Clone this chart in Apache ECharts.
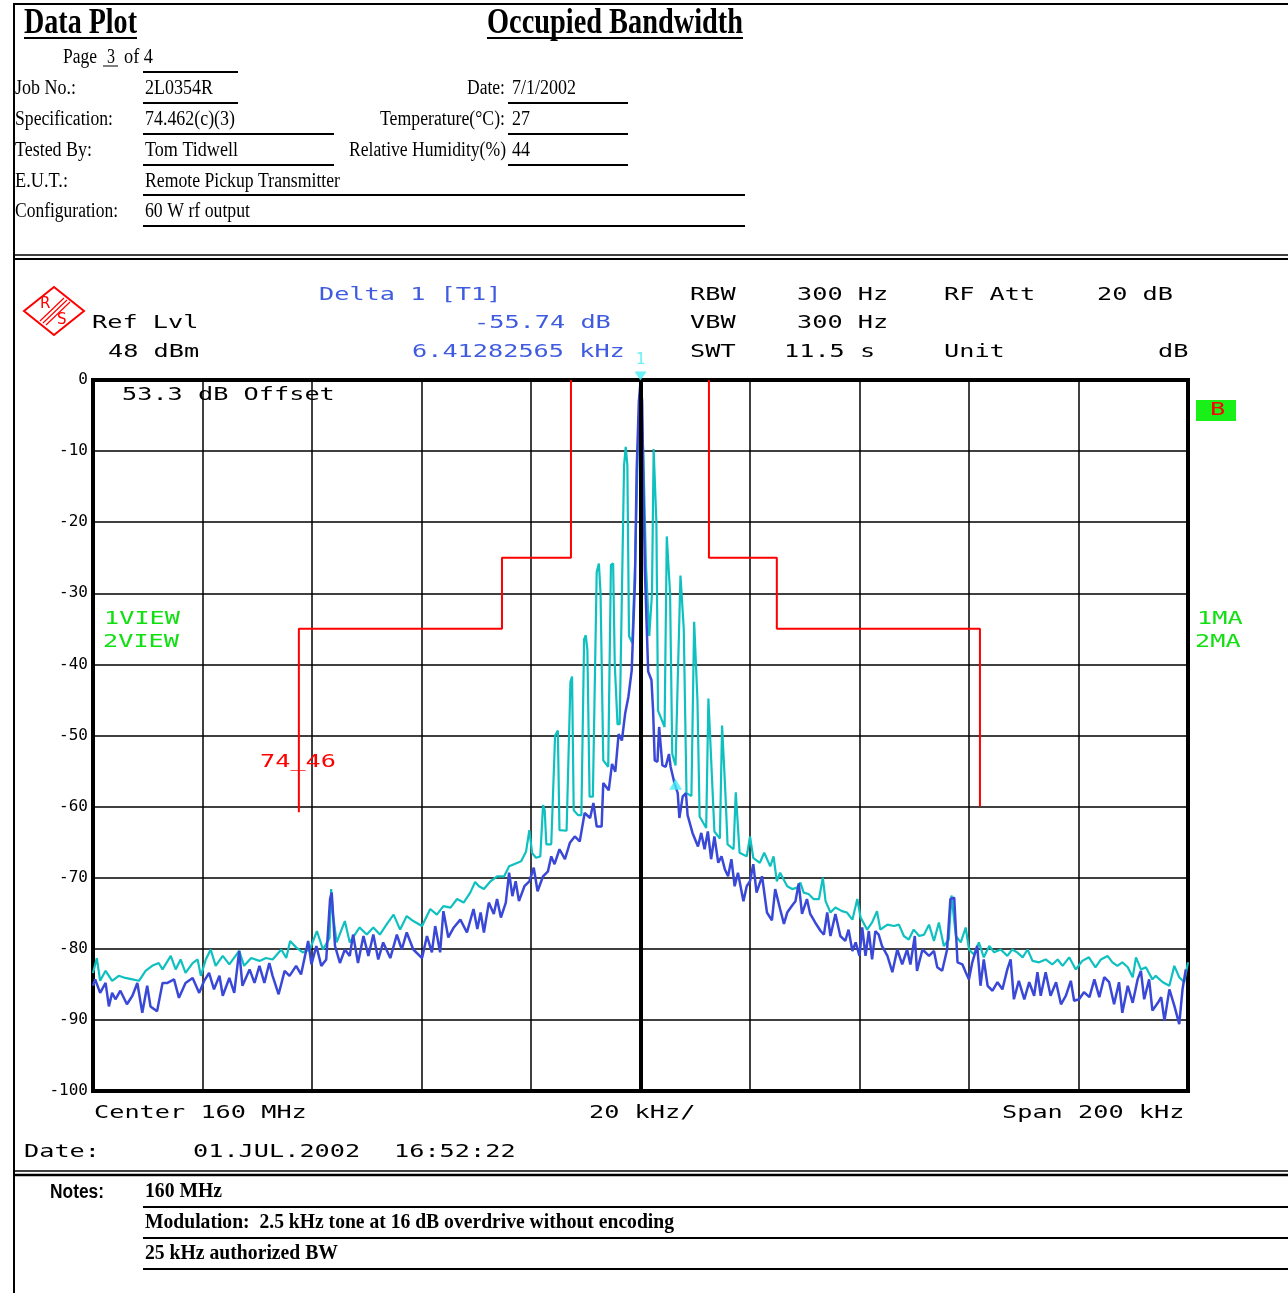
<!DOCTYPE html>
<html>
<head>
<meta charset="utf-8">
<title>Occupied Bandwidth</title>
<script src="https://cdn.jsdelivr.net/npm/echarts@6/dist/echarts.min.js"></script>
<style>
  html, body { margin: 0; padding: 0; background: #fff; }
  #chart { width: 1288px; height: 1293px; }
</style>
</head>
<body>
<div id="chart"></div>
<script>
// ---- Spectrum traces: [offset from center (kHz), level (dB)] ----
// Trace 1 (max hold), lower band edge, core, upper band edge
const trace1Low = [[-100,-83.4],[-99.3,-81.3],[-98.7,-84.5],[-97.7,-83.1],[-96.5,-84.5],[-95.3,-83.8],[-94.1,-84.1],[-92.8,-84.3],[-91.6,-84.5],[-90.4,-83.1],[-89.2,-82.4],[-88,-82],[-87.3,-82.9],[-85.8,-81],[-84.9,-82.9],[-84,-81.5],[-83.1,-83.4],[-81.8,-82],[-80.9,-81.5],[-80.3,-83.8],[-79.4,-81.5],[-78.5,-80.1],[-77.6,-82.4],[-76.3,-81],[-75.1,-82.2],[-73.3,-80.3],[-72.4,-82.4],[-71.1,-81.3],[-69.6,-81.7],[-68.4,-81.3],[-67.2,-81.5],[-65.6,-80.1],[-64.7,-81.3],[-64,-78.9],[-62.9,-79.8],[-61.7,-80.5],[-60.4,-80.1],[-59.1,-77.5],[-58,-80.1],[-56.8,-78.5],[-56.5,-71.6],[-56.2,-75],[-55.5,-79.1],[-54,-76.1],[-53.1,-79.1],[-51.3,-77],[-50,-78],[-48.8,-77],[-47.6,-78],[-46.4,-76.6],[-45.1,-75.2],[-43.9,-77.3],[-42.7,-75.4],[-41.5,-76.1],[-39.9,-76.8],[-38.4,-74.4],[-37.2,-75.2],[-36,-74],[-34.7,-74.2],[-33.5,-73],[-32.3,-73.5],[-31.1,-72.1],[-30.2,-70.6]];
const trace1Core = [[-29.5,-71.2],[-28.6,-71.6],[-27.4,-70.5],[-26.2,-69.8],[-24.9,-69.8],[-24,-68.4],[-23.1,-68.1],[-21.8,-67.7],[-20.9,-66.3],[-20.3,-63.3],[-19.8,-66.5],[-19.1,-67.2],[-18.3,-67],[-17.8,-59.8],[-17.5,-60.5],[-17.2,-65.3],[-16.3,-65.3],[-15.6,-50],[-15.1,-49.3],[-14.8,-63.3],[-13.5,-63.4],[-12.8,-42.5],[-12.5,-41.7],[-12.2,-60.5],[-11.4,-61.2],[-10.8,-61.2],[-10.3,-36.5],[-10,-35.9],[-9.7,-38],[-9.3,-58.6],[-8.7,-58.6],[-8,-27],[-7.6,-25.8],[-7.3,-30],[-6.8,-53.5],[-5.9,-54.4],[-5.4,-26],[-5,-25.8],[-4.7,-40],[-4.2,-48.4],[-3.8,-48.4],[-3,-12],[-2.7,-9.4],[-2.4,-12],[-2.1,-36],[-1.5,-37],[-1,-26],[-0.5,-10],[0,-0.5],[0.5,-10],[1,-26],[1.6,-36],[2.1,-30],[2.4,-9.7],[2.6,-9.5],[2.9,-20],[3.2,-46.5],[4.4,-48.8],[4.8,-22],[5.1,-21.8],[5.4,-30],[5.8,-52.6],[6.4,-54.2],[7.3,-27.5],[7.6,-27.3],[7.9,-35],[8.4,-58.1],[9.3,-58.5],[9.8,-34],[10.1,-33.8],[10.4,-45],[10.8,-61.4],[12,-63],[12.4,-44.8],[12.7,-44.6],[13,-55],[13.5,-63.5],[14.5,-64.5],[14.9,-48.6],[15.2,-48.4],[15.5,-58],[15.9,-65.3],[17,-66],[17.4,-58],[17.7,-58.2],[18.1,-66.5],[19.4,-67],[20,-64.2],[20.6,-67.2],[21.8,-67.9],[22.6,-66.5],[23.7,-68.4],[24.3,-67],[24.9,-70.5],[25.5,-69.3],[26.8,-71.2],[27.7,-71.6],[28.6,-71.4],[29.2,-70.7],[29.8,-72.1],[30.7,-72.3]];
const trace1High = [[31.6,-73],[32.6,-73],[33.3,-70],[33.8,-73.3],[34.7,-74.9],[35.6,-74.2],[36.8,-74.7],[37.7,-74.9],[38.7,-75.9],[39.6,-73],[40.2,-75.6],[41.4,-77.3],[42.3,-76.3],[43.2,-74.7],[43.8,-77.3],[45.1,-76.6],[46.3,-76.8],[47.2,-76.6],[48.1,-78.2],[49,-78.7],[49.9,-77.3],[50.9,-78.2],[51.8,-78],[52.7,-76.6],[53.6,-78.9],[54.5,-76.3],[55.4,-79.6],[56.3,-78.7],[56.8,-72.5],[57.1,-72.3],[57.6,-78.2],[58.5,-79.1],[59.4,-77],[60,-80.1],[60.9,-80.8],[61.8,-79.1],[62.7,-81.2],[63.7,-79.6],[64.6,-80.5],[65.8,-80.1],[67,-81],[67.9,-80.1],[68.8,-80.5],[69.8,-81.2],[70.7,-80.1],[71.6,-81.7],[72.8,-81.9],[74,-81.5],[75.2,-82.2],[76.2,-81.5],[77.1,-82.4],[78.3,-81.2],[79.5,-82.9],[80.7,-81.7],[81.9,-81.2],[83.1,-82.6],[84.1,-81.5],[85.3,-81],[86.2,-81.9],[87.1,-82.4],[88,-81.9],[89,-82.6],[89.9,-84],[90.5,-81.2],[91.4,-82.9],[92.3,-82.6],[93.5,-84.3],[94.1,-83.8],[95.4,-84.7],[96.6,-85.2],[97.5,-82.4],[98.4,-84],[99.3,-84.7],[100,-81.9]];

// Trace 2 (clear/write)
const trace2Low = [[-100,-85.2],[-99.6,-84.3],[-98.7,-86.2],[-97.7,-84.8],[-97.1,-88.1],[-96.5,-86.2],[-95.9,-87.1],[-95,-85.9],[-93.8,-87.8],[-92.8,-86.6],[-91.9,-84.8],[-91,-89],[-90.1,-85.2],[-89.5,-88.1],[-88.3,-88.8],[-87.3,-84.8],[-86.4,-84.8],[-85.2,-84.3],[-84.3,-86.9],[-83.1,-84.8],[-81.8,-84.1],[-80.6,-86.2],[-79.7,-84.5],[-78.8,-83.4],[-77.9,-85.7],[-76.9,-83.8],[-76.3,-86.6],[-75.1,-84.1],[-74.2,-86.2],[-73.3,-80.3],[-72.7,-85.2],[-71.4,-82.9],[-70.5,-84.8],[-69.6,-82.4],[-68.7,-84.8],[-67.8,-82],[-67.2,-83.8],[-66.1,-86.4],[-65,-83.1],[-64.1,-83.8],[-62.9,-82.4],[-62,-83.6],[-60.7,-78.9],[-60.1,-82.2],[-59.2,-79.6],[-58.3,-82.4],[-57.4,-81.5],[-56.7,-73],[-56.4,-72.1],[-55.8,-79.6],[-54.9,-82],[-54,-80.1],[-53.1,-81],[-52.5,-78],[-51.6,-82],[-50.6,-78.2],[-49.7,-81],[-48.8,-78],[-47.9,-81.5],[-47,-79.1],[-45.7,-81.3],[-44.5,-78],[-43.6,-80.1],[-42.7,-77.7],[-41.5,-80.1],[-39.9,-81.3],[-39,-78.2],[-38.1,-80.5],[-37.5,-76.8],[-36.6,-80.5],[-36,-74.7],[-35.1,-78.4],[-34.1,-77],[-32.9,-75.9],[-31.7,-77.7],[-30.5,-74.4]];
const trace2Core = [[-29.8,-77.2],[-29.2,-74.9],[-28.6,-77.7],[-27.7,-73.5],[-26.8,-75.1],[-26.2,-73],[-25.5,-75.6],[-24.6,-73.5],[-24,-69.3],[-23.4,-72.6],[-22.8,-70.5],[-22.2,-73.3],[-21.2,-71.2],[-20.3,-70.5],[-19.5,-68.6],[-18.8,-71.9],[-17.8,-69.8],[-16.9,-69.1],[-16.3,-67],[-15.7,-68.1],[-14.8,-66],[-13.8,-67.4],[-12.9,-65.1],[-12,-64.2],[-11.1,-64.9],[-10.2,-60.9],[-9.2,-61.6],[-8.6,-59.5],[-8,-62.8],[-7.1,-62.8],[-6.8,-56.7],[-5.8,-57.7],[-5.2,-54],[-4.6,-55.1],[-4,-49.8],[-3.4,-50.7],[-2.8,-46.9],[-2.2,-44.5],[-1.6,-40.8],[-1,-28],[-0.7,-12.7],[-0.3,-3],[0,-0.3],[0.3,-3],[0.5,-13.7],[0.8,-26.7],[1.4,-41],[2,-42.2],[2.3,-46.5],[2.6,-53.5],[3.1,-53.7],[3.4,-48.8],[4,-54.2],[4.6,-54.4],[5.2,-52.6],[5.5,-54.4],[6.2,-56.7],[6.8,-58.1],[7.1,-61.6],[7.7,-58.6],[8.3,-58.1],[8.6,-61.2],[9.5,-63.7],[10.5,-65.6],[11.1,-63.7],[11.7,-66],[12.3,-63.5],[12.9,-67.4],[13.5,-64.2],[14.2,-67.9],[14.8,-67],[15.4,-68.8],[16,-69.8],[16.6,-67.4],[17.2,-71.2],[17.8,-69.3],[18.8,-73.3],[19.4,-71.2],[20,-70.5],[20.6,-68.1],[21.2,-72.1],[22.2,-69.8],[23.1,-74.9],[24,-76],[24.6,-71.6],[25.5,-74.4],[26.2,-76.5],[26.8,-74.9],[27.7,-73.9],[28.3,-73.3],[28.9,-70.8],[29.5,-75.1],[30.4,-73],[31,-75.1]];
const trace2High = [[31.9,-76.3],[32.9,-77.5],[33.5,-78],[34.1,-74.9],[34.7,-78.2],[35.6,-75.1],[36.5,-78.2],[37.4,-78.9],[38,-77.3],[38.7,-80.3],[39.3,-79.1],[40,-81],[40.5,-77],[41.1,-81],[41.7,-77.5],[42.3,-81.5],[42.9,-77.5],[43.5,-78],[44.1,-79.6],[45.1,-81],[46,-83.3],[46.9,-80.1],[47.8,-82.2],[48.7,-80.1],[49.3,-82.2],[50.1,-78.2],[50.5,-83.1],[51.5,-80.1],[52.7,-81],[53.6,-80.3],[54.2,-82.6],[55.1,-83.1],[56,-80.1],[56.6,-73],[57.3,-72.8],[57.9,-81.9],[58.8,-82.2],[59.4,-83.3],[60,-84.3],[60.6,-81.9],[61.5,-79.6],[62.1,-85.2],[62.7,-81.5],[63.4,-85.2],[64.3,-85.9],[65.2,-84.7],[66.1,-85.7],[67,-82.9],[67.6,-81.5],[68.2,-87.1],[69.1,-84.5],[70.1,-87.1],[71,-84.7],[71.9,-86.6],[72.5,-83.3],[73.1,-86.6],[74,-83.3],[74.9,-86.6],[75.9,-84.7],[76.8,-87.8],[77.7,-86.6],[78.6,-84.5],[79.2,-87.3],[80.1,-87.1],[81,-86.1],[82,-86.8],[82.9,-84.3],[83.8,-86.8],[84.7,-84],[85.6,-84.7],[86.5,-87.8],[87.4,-84.7],[88,-89],[89,-85.2],[89.9,-87.6],[90.8,-84.3],[91.4,-83.1],[92,-87.1],[92.9,-84.3],[93.5,-88.7],[94.5,-87.6],[95.1,-86.8],[95.7,-90.1],[96.6,-85.7],[97.5,-88],[98.4,-90.6],[99,-85.7],[99.6,-82.9]];

// Emission mask 74_46 (kHz, dB)
const maskLower = [[-62.4,-60.8],[-62.4,-35],[-25.3,-35],[-25.3,-25],[-12.7,-25],[-12.7,0]];
const maskUpper = [[12.5,0],[12.5,-25],[24.9,-25],[24.9,-35],[62,-35],[62,-60]];

// Markers: reference marker 1 on the carrier, delta marker
const marker1 = [[0, 0]];
const deltaMarker = [[6.41282565, -55.74]];

// Axis settings
const spanKHz = [-100, 100];
const divKHz = 20;
const levelRange = [-100, 0];
const divDB = 10;

// ---- layout helpers ----
const ctx2d = document.createElement('canvas').getContext('2d');
function textEl(str, x, y, font, fill, sx) {
  return {
    type: 'text', x: x, y: y, scaleX: sx, scaleY: 1, silent: true, z: 10,
    style: { text: str, x: 0, y: 0, font: font, fill: fill,
             textAlign: 'left', textVerticalAlign: 'middle', align: 'left', verticalAlign: 'middle' }
  };
}
function fitText(str, x0, x1, y, font, fill) {
  ctx2d.font = font;
  const w = ctx2d.measureText(str).width;
  return textEl(str, x0, y, font, fill || '#000', (x1 - x0) / w);
}
const MONO = '18px "DejaVu Sans Mono"';
ctx2d.font = MONO;
const MONO_SX = 15.2 / ctx2d.measureText('M').width;
function mono(str, x, y, fill) { return textEl(str, x, y, MONO, fill || '#000', MONO_SX); }
function hline(x0, x1, y, w) {
  return { type: 'line', silent: true, z: 10, shape: { x1: x0, y1: y, x2: x1, y2: y }, style: { stroke: '#000', lineWidth: w } };
}
function vline(x, y0, y1, w) {
  return { type: 'line', silent: true, z: 10, shape: { x1: x, y1: y0, x2: x, y2: y1 }, style: { stroke: '#000', lineWidth: w } };
}

const SERIF = '20px "Liberation Serif"';
const SERIF_B = 'bold 21px "Liberation Serif"';
const TITLE = 'bold 35px "Liberation Serif"';
const BLUE_TXT = '#3f5be0';
const GREEN_TXT = '#10e010';
const RED = '#ff0000';

const graphics = [
  // page frame
  vline(14, 3, 1293, 2),
  hline(14, 1288, 4, 2),
  hline(14, 1288, 255, 1.5),
  hline(14, 1288, 259, 2),
  hline(14, 1288, 1171, 1.5),
  hline(14, 1288, 1175, 2.5),

  // header block
  fitText('Data Plot', 24, 137, 24, TITLE),
  hline(24, 137, 38, 2),
  fitText('Occupied Bandwidth', 487, 743, 24, TITLE),
  hline(487, 743, 38, 2),
  fitText('Page', 63, 97, 58, SERIF),
  fitText('3', 107, 115, 58, SERIF),
  hline(103, 118, 66, 1),
  fitText('of 4', 124, 153, 58, SERIF),
  hline(143, 238, 72, 2),
  fitText('Job No.:', 15, 76, 89, SERIF),
  fitText('2L0354R', 145, 213, 89, SERIF),
  hline(143, 238, 103, 2),
  fitText('Date:', 467, 505, 89, SERIF),
  fitText('7/1/2002', 512, 576, 89, SERIF),
  hline(508, 628, 103, 2),
  fitText('Specification:', 15, 113, 120, SERIF),
  fitText('74.462(c)(3)', 145, 235, 120, SERIF),
  hline(143, 334, 134, 2),
  fitText('Temperature(\u00B0C):', 380, 505, 120, SERIF),
  fitText('27', 512, 530, 120, SERIF),
  hline(508, 628, 134, 2),
  fitText('Tested By:', 15, 92, 151, SERIF),
  fitText('Tom Tidwell', 145, 238, 151, SERIF),
  hline(143, 334, 165, 2),
  fitText('Relative Humidity(%)', 349, 506, 151, SERIF),
  fitText('44', 512, 530, 151, SERIF),
  hline(508, 628, 165, 2),
  fitText('E.U.T.:', 15, 68, 182, SERIF),
  fitText('Remote Pickup Transmitter', 145, 340, 182, SERIF),
  hline(143, 745, 195, 2),
  fitText('Configuration:', 15, 118, 212, SERIF),
  fitText('60 W rf output', 145, 250, 212, SERIF),
  hline(143, 745, 226, 2),

  // analyzer logo
  { type: 'polygon', silent: true, z: 10, shape: { points: [[54, 287], [84, 311], [54, 335], [24, 311]] },
    style: { fill: '#fff', stroke: RED, lineWidth: 2 } },
  { type: 'line', silent: true, z: 11, shape: { x1: 40, y1: 321, x2: 64, y2: 298 }, style: { stroke: RED, lineWidth: 1.2 } },
  { type: 'line', silent: true, z: 11, shape: { x1: 43, y1: 323, x2: 67, y2: 300 }, style: { stroke: RED, lineWidth: 1.2 } },
  { type: 'line', silent: true, z: 11, shape: { x1: 46, y1: 325, x2: 70, y2: 302 }, style: { stroke: RED, lineWidth: 1.2 } },
  textEl('R', 40, 304, '15px "DejaVu Sans"', RED, 1),
  textEl('S', 57, 320, '15px "DejaVu Sans"', RED, 1),

  // analyzer settings
  mono('Delta 1 [T1]', 319, 295, BLUE_TXT),
  mono('Ref Lvl', 92, 323),
  mono('-55.74 dB', 474, 323, BLUE_TXT),
  mono('48 dBm', 108, 352),
  mono('6.41282565 kHz', 412, 352, BLUE_TXT),
  mono('RBW', 690, 295),
  mono('300 Hz', 797, 295),
  mono('RF Att', 944, 295),
  mono('20 dB', 1097, 295),
  mono('VBW', 690, 323),
  mono('300 Hz', 797, 323),
  mono('SWT', 690, 352),
  mono('11.5 s', 784, 352),
  mono('Unit', 944, 352),
  mono('dB', 1158, 352),
  mono('53.3 dB Offset', 122, 395),
  mono('1VIEW', 104, 619, GREEN_TXT),
  mono('2VIEW', 103, 642, GREEN_TXT),
  mono('1MA', 1197, 619, GREEN_TXT),
  mono('2MA', 1195, 642, GREEN_TXT),
  { type: 'rect', silent: true, z: 10, shape: { x: 1196, y: 400, width: 40, height: 21 }, style: { fill: '#18f018' } },
  mono('B', 1210, 410, RED),
  mono('74_46', 260, 762, RED),
  mono('Center 160 MHz', 94, 1113),
  mono('20 kHz/', 589, 1113),
  mono('Span 200 kHz', 1002, 1113),
  mono('Date:', 24, 1152),
  mono('01.JUL.2002', 193, 1152),
  mono('16:52:22', 394, 1152),

  // notes block
  fitText('Notes:', 50, 104, 1192, 'bold 20px "Liberation Sans"'),
  fitText('160 MHz', 145, 222, 1192, SERIF_B),
  hline(143, 1288, 1207, 2),
  fitText('Modulation:  2.5 kHz tone at 16 dB overdrive without encoding', 145, 674, 1223, SERIF_B),
  hline(143, 1288, 1238, 2),
  fitText('25 kHz authorized BW', 145, 338, 1254, SERIF_B),
  hline(143, 1288, 1269, 2)
];

const chart = echarts.init(document.getElementById('chart'), null, { renderer: 'canvas' });
chart.setOption({
  animation: false,
  backgroundColor: '#fff',
  grid: { left: 93, top: 380, width: 1095, height: 711, show: true, borderColor: '#000', borderWidth: 4, backgroundColor: 'rgba(0,0,0,0)' },
  xAxis: {
    type: 'value', min: spanKHz[0], max: spanKHz[1], interval: divKHz,
    axisLine: { show: false }, axisTick: { show: false }, axisLabel: { show: false },
    splitLine: { show: true, lineStyle: { color: '#000', width: 1.5 } }
  },
  yAxis: {
    type: 'value', min: levelRange[0], max: levelRange[1], interval: divDB,
    axisLine: { show: false }, axisTick: { show: false },
    axisLabel: { show: true, showMinLabel: true, showMaxLabel: true, margin: 5, color: '#000',
                 fontFamily: 'DejaVu Sans Mono', fontSize: 16 },
    splitLine: { show: true, lineStyle: { color: '#000', width: 1.5 } }
  },
  graphic: graphics,
  series: [
    { name: 'mask lower', type: 'line', data: maskLower, symbol: 'none', z: 1,
      lineStyle: { color: RED, width: 2 } },
    { name: 'mask upper', type: 'line', data: maskUpper, symbol: 'none', z: 1,
      lineStyle: { color: RED, width: 2 } },
    { name: '1VIEW', type: 'line', data: trace1Low.concat(trace1Core, trace1High), symbol: 'none', z: 2,
      lineStyle: { color: '#0fc0c0', width: 2.2 },
      markLine: { silent: true, symbol: 'none', label: { show: false },
                  lineStyle: { color: '#000', width: 4, type: 'solid' }, data: [{ xAxis: 0 }] } },
    { name: '2VIEW', type: 'line', data: trace2Low.concat(trace2Core, trace2High), symbol: 'none', z: 3,
      lineStyle: { color: '#3a48d8', width: 2.5 } },
    { name: 'marker 1', type: 'scatter', data: marker1, z: 5, symbol: 'triangle', symbolRotate: 180,
      symbolSize: [12, 9], symbolOffset: [0, -4], itemStyle: { color: '#45eef2' },
      label: { show: true, formatter: '1', position: 'top', distance: 4, color: '#45eef2',
               fontFamily: 'DejaVu Sans Mono', fontSize: 16 } },
    { name: 'delta 1', type: 'scatter', data: deltaMarker, z: 5, symbol: 'triangle',
      symbolSize: [13, 11], symbolOffset: [0, 8], itemStyle: { color: '#45eef2' } }
  ]
});
</script>
</body>
</html>
